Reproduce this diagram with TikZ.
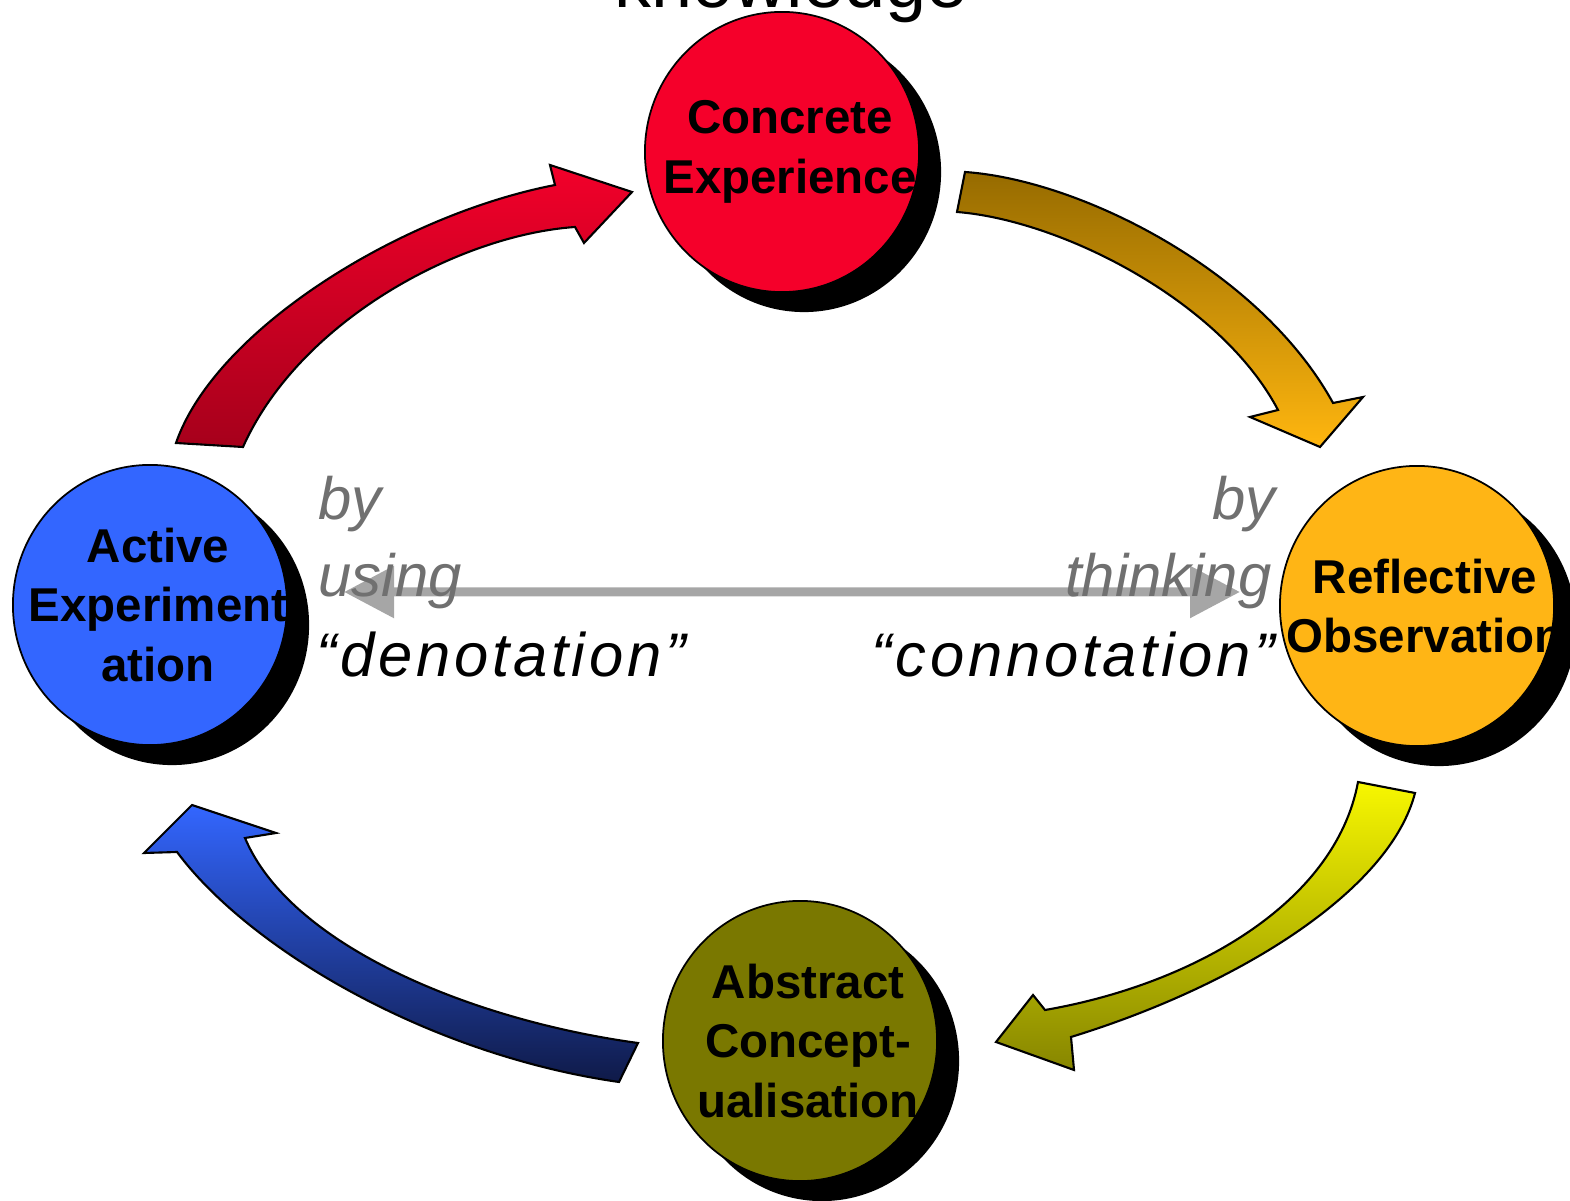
\documentclass[tikz,border=0pt]{standalone}
\usepackage{fontspec}
\setmainfont{Liberation Sans}
\newfontfamily\quotefont[LetterSpace=6]{Liberation Sans}
\usepackage{xcolor}
\usetikzlibrary{arrows.meta,positioning,shapes,shadows}

\definecolor{ceRed}{HTML}{F5002A}
\definecolor{aeBlue}{HTML}{3366FF}
\definecolor{roOrange}{HTML}{FFB515}
\definecolor{acOlive}{HTML}{7A7800}
\definecolor{redTop}{HTML}{F2002A}
\definecolor{redBot}{HTML}{A6001B}
\definecolor{brownTop}{HTML}{966B00}
\definecolor{brownBot}{HTML}{FFB60F}
\definecolor{yellowTop}{HTML}{F7F700}
\definecolor{yellowBot}{HTML}{878600}
\definecolor{blueTop}{HTML}{3366FF}
\definecolor{blueBot}{HTML}{0F1A48}
\definecolor{hintgray}{HTML}{707070}
\definecolor{linkgray}{HTML}{A6A6A6}

\begin{document}
\begin{tikzpicture}[
		x=0.01cm, y=-0.01cm,
		stage/.style={
			ellipse, draw=black, line width=.5pt, inner sep=0pt,
			minimum width=2.74cm, minimum height=2.8cm,
			drop shadow={shadow xshift=.22cm, shadow yshift=-.2cm, fill=black, opacity=1}
		},
		stagetext/.style={
			align=center, inner sep=0pt, font=\fontsize{13.5}{17}\selectfont\bfseries
		},
		hint/.style={
			inner sep=0pt, text=hintgray, font=\fontsize{17}{20}\selectfont\itshape
		},
		quotetext/.style={
			inner sep=0pt, font=\fontsize{17.5}{20}\selectfont\quotefont\itshape
		},
		fatarrow/.style={
			draw=black, line width=.6pt, line join=miter
		},
		dialink/.style={
			draw=linkgray, line width=.09cm,
			{Triangle[length=.5cm,width=.5cm]}-{Triangle[length=.5cm,width=.5cm]}
		},
		]
		\useasboundingbox (0,0) rectangle (1570,1201);
		
		% title, cut at the top edge
		\node [anchor=base, font=\fontsize{21}{25}\selectfont] (know) at (791,8) {knowledge};
		
		% stages of the cycle
		\node [stage, fill=ceRed] (ce) at (782,152) {};
		\node [stagetext] (ce-t) at ([xshift=.08cm]ce.center) {Concrete\\Experience};
		\node [stage, fill=roOrange] (ro) at (1417,606) {};
		\node [stagetext] (ro-t) at ([xshift=.08cm]ro.center) {Reflective\\Observation};
		\node [stage, fill=acOlive] (ac) at (800,1041) {};
		\node [stagetext] (ac-t) at ([xshift=.08cm]ac.center) {Abstract\\Concept-\\ualisation};
		\node [stage, fill=aeBlue] (ae) at (150,605) {};
		\node [stagetext] (ae-t) at ([xshift=.08cm]ae.center) {Active\\Experiment\\ation};
		
		% curved arrows
		\shadedraw [fatarrow, top color=redTop, bottom color=redBot]
			(176,443) .. controls (215,330) and (400,215) .. (555,185)
			-- (550,165) -- (632,192) -- (584,243) -- (575,227)
			.. controls (460,235) and (300,320) .. (243,447) -- cycle;
		\shadedraw [fatarrow, top color=brownTop, bottom color=brownBot]
			(965,172) .. controls (1080,180) and (1260,270) .. (1333,403)
			-- (1363,397) -- (1320,447) -- (1250,417) -- (1278,410)
			.. controls (1220,300) and (1060,220) .. (957,212) -- cycle;
		\shadedraw [fatarrow, top color=yellowTop, bottom color=yellowBot]
			(1415,793) .. controls (1390,890) and (1240,985) .. (1071,1037)
			-- (1074,1070) -- (996,1042) -- (1033,995) -- (1045,1010)
			.. controls (1190,985) and (1335,905) .. (1358,782) -- cycle;
		\shadedraw [fatarrow, top color=blueTop, bottom color=blueBot]
			(619,1082) .. controls (430,1055) and (250,950) .. (177,852)
			-- (144,853) -- (192,805) -- (276,833) -- (245,838)
			.. controls (290,945) and (470,1020) .. (638,1043) -- cycle;
		
		% denotation / connotation axis
		\draw [dialink, shorten <=.56cm, shorten >=.39cm] ([yshift=.13cm]ae.east) -- ([yshift=.14cm]ro.west);
		
		\node [hint, anchor=base west] (by-l) at (318,520) {by};
		\node [hint, anchor=base west] (using-l) at (318,597) {using};
		\node [quotetext, anchor=base west] (denot) at (316,677) {“denotation”};
		\node [hint, anchor=base east] (by-r) at (1276,520) {by};
		\node [hint, anchor=base east] (thinking-r) at (1272,597) {thinking};
		\node [quotetext, anchor=base east] (connot) at (1276,677) {“connotation”};
		
	\end{tikzpicture}
\end{document}
